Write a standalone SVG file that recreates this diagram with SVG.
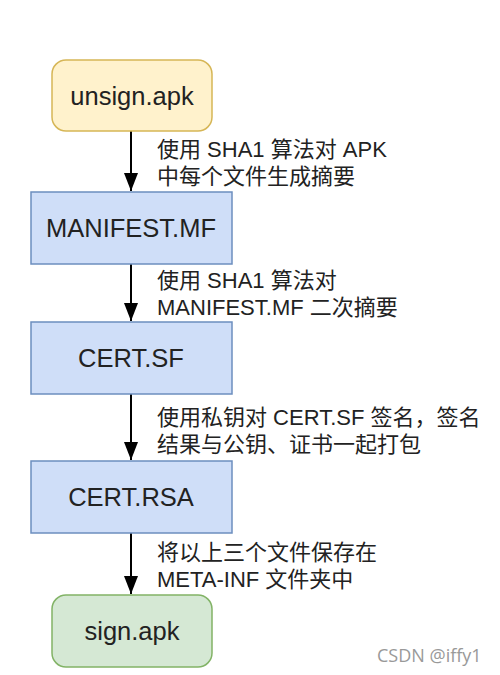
<svg xmlns="http://www.w3.org/2000/svg" width="500" height="675" viewBox="0 0 500 675">
<style>
.n{font-family:"Liberation Sans",Arial,sans-serif;font-size:25.5px;fill:#222;text-anchor:middle;dominant-baseline:central}
.l{font-family:"Liberation Sans","Noto Sans CJK SC",sans-serif;font-size:22px;fill:#222}
.e{stroke:#000;stroke-width:2;fill:none}
</style>
<defs>
<marker id="ah" viewBox="0 0 18 14" refX="18" refY="7" markerWidth="18" markerHeight="14" orient="auto" markerUnits="userSpaceOnUse">
<path d="M0,0 L18,7 L0,14 z" fill="#000"/>
</marker>
</defs>
<rect width="500" height="675" fill="#fff"/>
<g id="edges">
<line class="e" x1="131" y1="131" x2="131" y2="191" marker-end="url(#ah)"/>
<line class="e" x1="131" y1="264" x2="131" y2="321" marker-end="url(#ah)"/>
<line class="e" x1="131" y1="394" x2="131" y2="460" marker-end="url(#ah)"/>
<line class="e" x1="131" y1="533" x2="131" y2="594" marker-end="url(#ah)"/>
</g>
<g id="labels">
<text class="l" x="157" y="157">使用 SHA1 算法对 APK</text>
<text class="l" x="157" y="184">中每个文件生成摘要</text>
<text class="l" x="157" y="288">使用 SHA1 算法对</text>
<text class="l" x="157" y="315">MANIFEST.MF 二次摘要</text>
<text class="l" x="157" y="425">使用私钥对 CERT.SF 签名，签名</text>
<text class="l" x="157" y="452">结果与公钥、证书一起打包</text>
<text class="l" x="157" y="560">将以上三个文件保存在</text>
<text class="l" x="157" y="587">META-INF 文件夹中</text>
</g>
<g id="unsign">
<rect x="52" y="60" width="160" height="71" rx="14" fill="#fff2cc" stroke="#d6b656" stroke-width="1.5"/>
<text class="n" x="132" y="96">unsign.apk</text>
</g>
<g id="manifest">
<rect x="31" y="192" width="201" height="72" fill="#cfdef8" stroke="#6c8ebf" stroke-width="1.5"/>
<text class="n" x="131" y="228">MANIFEST.MF</text>
</g>
<g id="certsf">
<rect x="31" y="322" width="201" height="72" fill="#cfdef8" stroke="#6c8ebf" stroke-width="1.5"/>
<text class="n" x="131" y="358">CERT.SF</text>
</g>
<g id="certrsa">
<rect x="31" y="461" width="201" height="72" fill="#cfdef8" stroke="#6c8ebf" stroke-width="1.5"/>
<text class="n" x="131" y="497">CERT.RSA</text>
</g>
<g id="sign">
<rect x="52" y="595" width="160" height="72" rx="14" fill="#d5e8d4" stroke="#82b366" stroke-width="1.5"/>
<text class="n" x="132" y="631">sign.apk</text>
</g>
<text x="377" y="662" font-family="'Open Sans',sans-serif" font-size="18" fill="#999">CSDN @iffy1</text>
</svg>
